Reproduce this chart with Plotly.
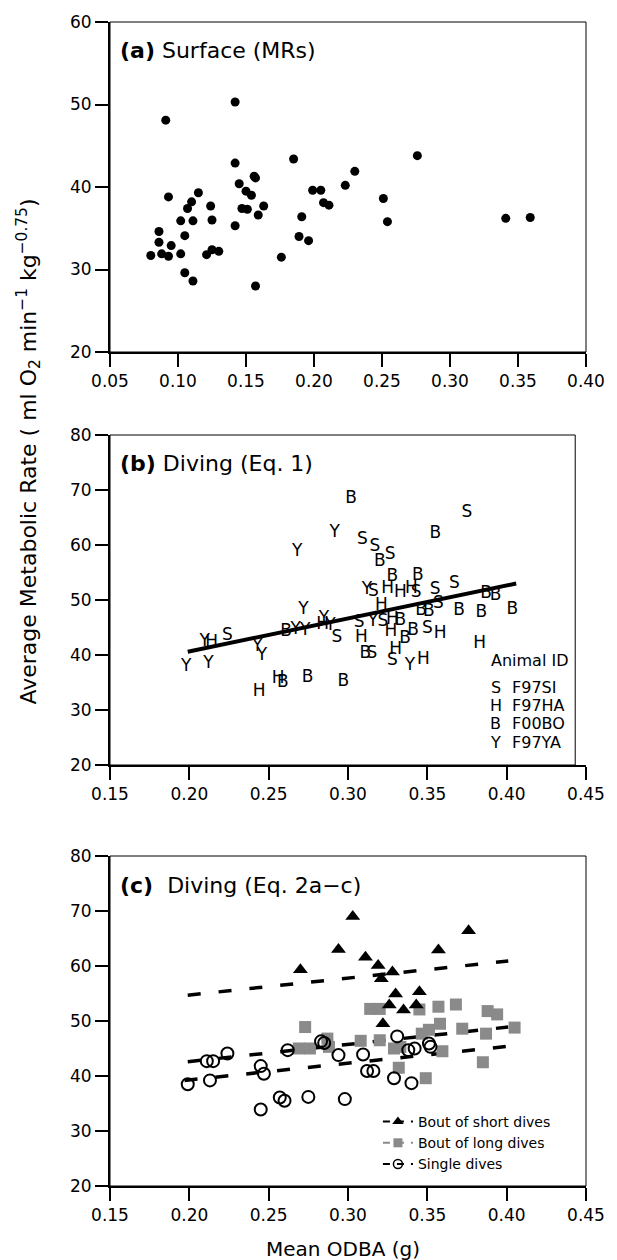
import plotly.graph_objects as go

# ---------------- Panel (a): Surface (MRs) ----------------
a_x = [0.080, 0.086, 0.086, 0.088, 0.091, 0.093, 0.095, 0.093, 0.102, 0.102,
       0.105, 0.105, 0.107, 0.110, 0.111, 0.111, 0.115, 0.121, 0.124, 0.125,
       0.125, 0.130, 0.142, 0.142, 0.142, 0.145, 0.150, 0.147, 0.151, 0.154,
       0.156, 0.157, 0.159, 0.163, 0.157, 0.176, 0.185, 0.189, 0.191, 0.196,
       0.199, 0.205, 0.207, 0.211, 0.223, 0.230, 0.251, 0.254, 0.276, 0.341,
       0.359]
a_y = [31.7, 34.6, 33.3, 31.9, 48.1, 38.8, 32.9, 31.6, 31.9, 35.9,
       34.1, 29.6, 37.4, 38.2, 35.9, 28.6, 39.3, 31.8, 37.7, 36.0,
       32.4, 32.2, 50.3, 42.9, 35.3, 40.4, 39.5, 37.4, 37.3, 39.0,
       41.3, 41.1, 36.6, 37.7, 28.0, 31.5, 43.4, 34.0, 36.4, 33.5,
       39.6, 39.6, 38.1, 37.8, 40.2, 41.9, 38.6, 35.8, 43.8, 36.2,
       36.3]

# ---------------- Panel (b): Diving (Eq. 1) ----------------
b_S_x = [0.224, 0.309, 0.317, 0.3265, 0.316, 0.343, 0.355, 0.367, 0.375, 0.357,
         0.350, 0.293, 0.307, 0.322, 0.315, 0.328]
b_S_y = [43.5, 61.0, 59.6, 58.3, 51.5, 51.4, 51.8, 52.9, 65.8, 49.3,
         44.7, 43.2, 45.9, 46.1, 40.3, 39.0]
b_H_x = [0.214, 0.244, 0.256, 0.3085, 0.327, 0.325, 0.333, 0.340, 0.321, 0.328,
         0.330, 0.3475, 0.358, 0.383, 0.284]
b_H_y = [42.3, 33.3, 35.7, 43.2, 44.2, 52.1, 51.3, 52.1, 49.0, 46.4,
         41.0, 39.2, 43.9, 42.1, 45.5]
b_B_x = [0.302, 0.320, 0.328, 0.344, 0.355, 0.261, 0.333, 0.336, 0.341, 0.311,
         0.259, 0.2745, 0.297, 0.351, 0.346, 0.370, 0.384, 0.387, 0.393, 0.4035]
b_B_y = [68.5, 56.9, 54.2, 54.5, 62.1, 44.2, 46.2, 43.0, 44.5, 40.3,
         34.9, 35.8, 35.1, 47.9, 48.0, 48.1, 47.6, 51.2, 50.7, 48.2]
b_Y_x = [0.2916, 0.268, 0.312, 0.272, 0.3157, 0.198, 0.212, 0.2097, 0.243, 0.2457,
         0.267, 0.273, 0.2848, 0.289, 0.339]
b_Y_y = [62.2, 58.8, 51.8, 48.3, 46.1, 37.9, 38.5, 42.5, 41.5, 39.9,
         44.6, 44.4, 46.6, 45.3, 38.0]
b_fit_x = [0.199, 0.406]
b_fit_y = [40.6, 53.0]
animal_letters = ["S", "H", "B", "Y"]
animal_codes = ["F97SI", "F97HA", "F00BO", "F97YA"]

# ---------------- Panel (c): Diving (Eq. 2a-c) ----------------
tri_x = [0.270, 0.294, 0.303, 0.311, 0.319, 0.321, 0.328, 0.330, 0.326, 0.335,
         0.343, 0.345, 0.322, 0.357, 0.376]
tri_y = [59.3, 63.0, 69.0, 61.6, 60.1, 57.7, 58.9, 54.9, 52.9, 52.0,
         52.9, 55.3, 49.5, 62.9, 66.4]
sq_x = [0.314, 0.320, 0.273, 0.269, 0.276, 0.287, 0.288, 0.308, 0.320, 0.329,
        0.332, 0.357, 0.368, 0.388, 0.394, 0.345, 0.358, 0.351, 0.3465, 0.372,
        0.387, 0.405, 0.3595, 0.333, 0.385, 0.349]
sq_y = [52.2, 52.2, 48.9, 45.0, 45.0, 46.8, 45.3, 46.4, 46.5, 45.0,
        41.5, 52.6, 53.0, 51.8, 51.2, 52.1, 49.5, 48.4, 47.7, 48.6,
        47.7, 48.8, 44.5, 45.3, 42.5, 39.6]
circ_x = [0.199, 0.213, 0.211, 0.215, 0.224, 0.245, 0.247, 0.245, 0.257, 0.260,
          0.275, 0.298, 0.262, 0.283, 0.285, 0.294, 0.3095, 0.312, 0.316, 0.329,
          0.331, 0.338, 0.342, 0.351, 0.352, 0.340]
circ_y = [38.5, 39.2, 42.7, 42.7, 44.1, 41.8, 40.4, 33.9, 36.1, 35.5,
          36.2, 35.8, 44.7, 46.3, 46.0, 43.8, 43.9, 40.9, 40.9, 39.6,
          47.2, 44.7, 45.0, 45.9, 45.3, 38.7]
tri_fit_x = [0.199, 0.401]
tri_fit_y = [54.7, 60.9]
sq_fit_x = [0.199, 0.401]
sq_fit_y = [42.6, 48.9]
circ_fit_x = [0.197, 0.401]
circ_fit_y = [39.2, 45.4]
legend_names = ["Bout of short dives", "Bout of long dives", "Single dives"]

FONT = "DejaVu Sans"
GRAY = "#8a8a8a"
DASH = "13px,18px"

W, H = 617, 1260
PL, PR, PT, PB = 110, 595, 22, 1186   # plot-area edges in window pixels
PH = PB - PT


def px_to_paper_y(py):
    return (PB - py) / PH


def px_to_paper_x(px):
    return (px - PL) / (PR - PL)


fig = go.Figure()

# Panel a
fig.add_trace(go.Scatter(x=a_x, y=a_y, mode="markers", xaxis="x", yaxis="y",
                         marker=dict(color="black", size=9), showlegend=False))

# Panel b
fig.add_trace(go.Scatter(x=b_fit_x, y=b_fit_y, mode="lines", xaxis="x2", yaxis="y2",
                         line=dict(color="black", width=4), showlegend=False))
for letter, xs, ys in [("S", b_S_x, b_S_y), ("H", b_H_x, b_H_y),
                       ("B", b_B_x, b_B_y), ("Y", b_Y_x, b_Y_y)]:
    fig.add_trace(go.Scatter(x=xs, y=ys, mode="text", text=[letter] * len(xs),
                             xaxis="x2", yaxis="y2",
                             textfont=dict(family=FONT, size=17, color="black"),
                             textposition="middle center", showlegend=False))

# Panel c: fit lines
for fx, fy in [(tri_fit_x, tri_fit_y), (sq_fit_x, sq_fit_y), (circ_fit_x, circ_fit_y)]:
    fig.add_trace(go.Scatter(x=fx, y=fy, mode="lines", xaxis="x3", yaxis="y3",
                             line=dict(color="black", width=3.5, dash=DASH),
                             showlegend=False))
# Panel c: markers
fig.add_trace(go.Scatter(x=sq_x, y=sq_y, mode="markers", xaxis="x3", yaxis="y3",
                         marker=dict(symbol="square", color=GRAY, size=12),
                         showlegend=False))
fig.add_trace(go.Scatter(x=tri_x, y=tri_y, mode="markers", xaxis="x3", yaxis="y3",
                         marker=dict(symbol="triangle-up", color="black", size=13),
                         showlegend=False))
fig.add_trace(go.Scatter(x=circ_x, y=circ_y, mode="markers", xaxis="x3", yaxis="y3",
                         marker=dict(symbol="circle-open", color="black", size=12,
                                     line=dict(width=2, color="black")),
                         showlegend=False))
# Legend entries
leg_styles = [
    dict(marker=dict(symbol="triangle-up", color="black", size=10),
         line=dict(color="black", width=2, dash="7px,7px")),
    dict(marker=dict(symbol="square", color=GRAY, size=9),
         line=dict(color=GRAY, width=2, dash="7px,7px")),
    dict(marker=dict(symbol="circle-open", color="black", size=9, line=dict(width=1.5, color="black")),
         line=dict(color="black", width=2, dash="7px,7px")),
]
for name, st in zip(legend_names, leg_styles):
    fig.add_trace(go.Scatter(x=[None], y=[None], mode="lines+markers", name=name,
                             xaxis="x3", yaxis="y3", showlegend=True, **st))

# Layout geometry
doms_y = [[px_to_paper_y(352), 1.0], [px_to_paper_y(765), px_to_paper_y(435)],
          [0.0, px_to_paper_y(856)]]
xranges = [[0.05, 0.40], [0.15, 0.45], [0.15, 0.45]]
yranges = [[20, 60], [20, 80], [20, 80]]

axis_common = dict(showline=True, linewidth=2, linecolor="black", mirror=False,
                   ticks="outside", ticklen=13, tickwidth=1.5, tickcolor="black",
                   showgrid=False, zeroline=False, ticklabeloverflow="allow",
                   tickfont=dict(family=FONT, size=17, color="black"))
layout = dict(
    width=W, height=H, autosize=False,
    margin=dict(l=PL, r=W - PR, t=PT, b=H - PB),
    paper_bgcolor="white", plot_bgcolor="white",
    font=dict(family=FONT, color="black"),
    legend=dict(x=px_to_paper_x(383), y=px_to_paper_y(1106), xanchor="left", yanchor="top",
                font=dict(family=FONT, size=14, color="black"),
                bgcolor="rgba(0,0,0,0)", itemwidth=30, tracegroupgap=0),
)
for i in range(3):
    sfx = "" if i == 0 else str(i + 1)
    layout["xaxis" + sfx] = dict(axis_common, domain=[0, 1], range=xranges[i],
                                 dtick=0.05, tick0=0.05, tickformat=".2f",
                                 anchor="y" + sfx)
    layout["yaxis" + sfx] = dict(axis_common, domain=doms_y[i], range=yranges[i],
                                 dtick=10, tick0=0, anchor="x" + sfx)
fig.update_layout(**layout)

# Thin frame (top/right); panel b's frame stops a little short of the axis end
frame_right = [1.0, (584 - PL) / (PR - PL), 1.0]
for i in range(3):
    sfx = "" if i == 0 else str(i + 1)
    fig.add_shape(type="rect", xref="x" + sfx + " domain", yref="y" + sfx + " domain",
                  x0=0, x1=frame_right[i], y0=0, y1=1, line=dict(color="black", width=1),
                  layer="below")

# Panel titles
titles = ["<b>(a)</b> Surface (MRs)", "<b>(b)</b> Diving (Eq. 1)", "<b>(c)</b>  Diving (Eq. 2a\u2212c)"]
ty = [0.915, 0.915, 0.911]
for i in range(3):
    sfx = "" if i == 0 else str(i + 1)
    fig.add_annotation(text=titles[i], xref="x" + sfx + " domain", yref="y" + sfx + " domain",
                       x=0.016, y=ty[i], xanchor="left", yanchor="middle", showarrow=False,
                       font=dict(family=FONT, size=22, color="black"))

# Animal ID legend (panel b)
fig.add_annotation(text="Animal ID", xref="x2 domain", yref="y2 domain",
                   x=(496 - 110) / 485, y=1 - (660 - 435) / 330, xanchor="left",
                   yanchor="middle", showarrow=False,
                   font=dict(family=FONT, size=16, color="black"))
rows_y = [687, 705, 723, 742]
for L, code, ry in zip(animal_letters, animal_codes, rows_y):
    fig.add_annotation(text=L, xref="x2 domain", yref="y2 domain",
                       x=(503 - 110) / 485, y=1 - (ry - 435) / 330, xanchor="center",
                       yanchor="middle", showarrow=False,
                       font=dict(family=FONT, size=16, color="black"))
    fig.add_annotation(text=code, xref="x2 domain", yref="y2 domain",
                       x=(518 - 110) / 485, y=1 - (ry - 435) / 330, xanchor="left",
                       yanchor="middle", showarrow=False,
                       font=dict(family=FONT, size=16, color="black"))

# Axis titles
fig.add_annotation(text="Average Metabolic Rate ( ml O<sub>2</sub> min<sup>\u22121</sup> kg<sup>\u22120.75</sup>)",
                   xref="paper", yref="paper", x=px_to_paper_x(27), y=px_to_paper_y(452),
                   xanchor="center", yanchor="middle", textangle=-90, showarrow=False,
                   font=dict(family=FONT, size=22, color="black"))
fig.add_annotation(text="Mean ODBA (g)", xref="paper", yref="paper",
                   x=px_to_paper_x(347), y=px_to_paper_y(1249),
                   xanchor="center", yanchor="middle", showarrow=False,
                   font=dict(family=FONT, size=20, color="black"))

# remove the browser's default page margin so the figure sits at the window origin
fig.write_html("out.html", config={"displayModeBar": False},
               post_script="document.body.style.margin='0';document.body.style.overflow='hidden';")
